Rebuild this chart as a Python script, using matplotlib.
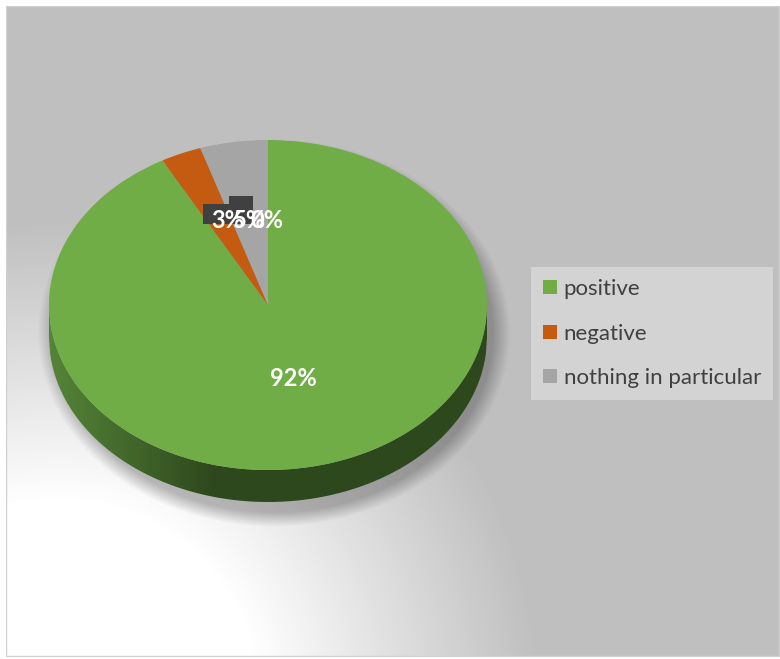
import numpy as np
import matplotlib
matplotlib.use('Agg')
import matplotlib.pyplot as plt
from matplotlib.patches import Rectangle, Polygon

# chart data
categories = ['positive', 'negative', 'nothing in particular']
values = [92, 3, 5]
colors = ['#70ad47', '#c55a11', '#a5a5a5']
pct_labels = ['92%', '3%', '5%']
extra_label = '0%'   # empty series point that Excel still labels

W, H = 780, 659
plt.rcParams['font.family'] = ['Lato', 'DejaVu Sans']

fig = plt.figure(figsize=(7.8, 6.59), dpi=100)
fig.patch.set_facecolor('white')

# background axes, pixel coordinates (y down)
bg = fig.add_axes([0, 0, 1, 1])
yy, xx = np.mgrid[0:H, 0:W] + 0.5
dist = np.hypot(xx - 60, yy - 700)
t = np.clip((dist - 200) / 280, 0, 1)
shade = 1 - t * (1 - 0xbf / 255)
bg.imshow(np.dstack([shade] * 3), extent=(0, W, H, 0), interpolation='bilinear')
# soft shadow under the pie, mostly to the right and below
cx, cy, rx, ry = 268, 305, 219, 165
depth = 32
d = np.sqrt(((xx - cx - 6) / (rx + 4)) ** 2 + ((yy - cy - depth / 2 - 12) / (ry + depth / 2 + 2)) ** 2)
alpha = 0.26 * np.clip((1.06 - d) / 0.08, 0, 1)
shadow = np.zeros((H, W, 4))
shadow[..., 3] = alpha
bg.imshow(shadow, extent=(0, W, H, 0), interpolation='bilinear')
bg.add_patch(Rectangle((6, 6), W - 7, 650, facecolor='none', edgecolor='#d0d0d0', lw=1))
# white margin around chart area
for r in [(0, 0, W, 5.5), (0, 0, 5.5, H), (0, 656.5, W, 5)]:
    bg.add_patch(Rectangle(r[:2], r[2], r[3], facecolor='white', edgecolor='none'))
bg.set_xlim(0, W)
bg.set_ylim(H, 0)
bg.set_aspect('auto')
bg.axis('off')

# pie axes, data units: radius 1 mapped to rx, ry pixels
pa = fig.add_axes([0, 0, 1, 1])
pa.patch.set_visible(False)
dep = depth / ry

# side of the 3D disc with a horizontal gradient
xs = np.linspace(-1, 1, 400)
top_lo = -np.sqrt(1 - xs ** 2)
side = np.concatenate([np.column_stack([xs, top_lo]),
                       np.column_stack([xs[::-1], top_lo[::-1] - dep])])
poly = Polygon(side, closed=True, facecolor='none', edgecolor='none')
pa.add_patch(poly)
gx = np.linspace(-1, 1, 300)
gt = np.clip((gx + 1) / 0.75, 0, 1)[None, :, None]
c_left = np.array([0x55, 0x85, 0x38]) / 255
c_dark = np.array([0x2e, 0x48, 0x1d]) / 255
grad = c_left * (1 - gt) + c_dark * gt
im = pa.imshow(np.repeat(grad, 2, axis=0), extent=(-1, 1, -1 - dep, 0), aspect='auto')
im.set_clip_path(poly)

wedges, _ = pa.pie(values, colors=colors, startangle=90, counterclock=False,
                   radius=1, center=(0, 0), wedgeprops=dict(linewidth=0))
pa.set_aspect('auto')
pa.set_xlim(-cx / rx, (W - cx) / rx)
pa.set_ylim((cy - H) / ry, cy / ry)
pa.axis('off')

# data labels (pixel placement like the original)
T = bg.transData
pa.add_patch(Rectangle((203, 204), 29, 20, facecolor='#404040', edgecolor='none', transform=T, zorder=5))
pa.add_patch(Rectangle((229, 196), 24, 28, facecolor='#404040', edgecolor='none', transform=T, zorder=5))
lab = dict(color='white', fontweight='bold', fontsize=17, ha='center', va='center', transform=T, zorder=6)
pa.text(293, 378, pct_labels[0], **lab)
pa.text(228, 220, pct_labels[1], **lab)
pa.text(250, 220, pct_labels[2], **lab)
pa.text(267, 220, extra_label, **lab)

leg = fig.legend(wedges, categories, loc='upper left',
                 bbox_to_anchor=(531 / W, 1 - 267 / H), bbox_transform=fig.transFigure,
                 frameon=True, facecolor='#d3d3d3', edgecolor='none', framealpha=1,
                 fancybox=False, borderaxespad=0, fontsize=16, labelcolor='#404040',
                 handlelength=0.6, handleheight=0.6, handletextpad=0.32,
                 labelspacing=1.1, borderpad=0.55)

fig.savefig('out.png', dpi=100)
